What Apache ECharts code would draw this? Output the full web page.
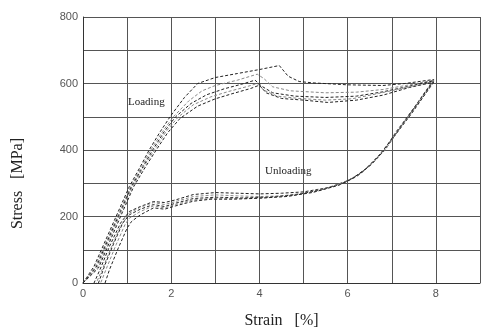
<!DOCTYPE html>
<html>
<head>
<meta charset="utf-8">
<script src="https://cdn.jsdelivr.net/npm/echarts@6/dist/echarts.min.js"></script>
<style>
  html, body { margin: 0; padding: 0; background: #fff; }
  #chart { width: 483px; height: 334px; }
</style>
</head>
<body>
<div id="chart"></div>
<script>
// strain [%], stress [MPa], one loop per specimen
const loadA = [[0,0],[0.25,50],[0.55,140],[0.8,215],[1.05,290],[1.3,350],[1.5,400],[1.75,455],[2.0,505],[2.3,558],[2.6,600],[3.0,618],[3.5,630],[4.0,642],[4.45,654],[4.65,622],[4.9,606],[5.2,602],[6.0,596],[6.8,594],[7.3,600],[7.95,612]];
const unloadA = [[7.95,612],[7.6,545],[7.2,470],[6.9,410],[6.6,365],[6.3,330],[6.0,308],[5.6,288],[5.0,274],[4.5,270],[4.0,268],[3.5,270],[3.0,272],[2.5,266],[2.1,250],[1.85,242],[1.6,245],[1.3,230],[1.05,215],[0.85,180],[0.6,110],[0.4,45],[0.25,0]];

const loadB = [[0,0],[0.28,50],[0.58,140],[0.83,215],[1.08,290],[1.33,350],[1.54,400],[1.8,455],[2.05,500],[2.4,548],[2.7,578],[3.0,594],[3.5,610],[3.95,628],[4.1,615],[4.3,590],[4.7,578],[5.5,572],[6.2,574],[6.8,582],[7.4,596],[7.95,610]];
const unloadB = [[7.95,610],[7.55,535],[7.15,460],[6.85,400],[6.55,360],[6.25,326],[5.95,304],[5.5,285],[5.0,270],[4.5,262],[4.0,260],[3.5,262],[3.0,265],[2.5,260],[2.1,245],[1.85,236],[1.6,242],[1.3,228],[1.05,210],[0.85,170],[0.65,110],[0.45,45],[0.3,0]];

const loadC = [[0,0],[0.3,48],[0.6,140],[0.85,215],[1.1,290],[1.36,350],[1.58,400],[1.84,455],[2.1,500],[2.45,540],[2.8,566],[3.2,584],[3.6,598],[3.9,610],[4.05,592],[4.3,572],[4.8,562],[5.5,558],[6.2,562],[6.8,575],[7.4,592],[7.95,608]];
const unloadC = [[7.95,608],[7.5,525],[7.1,455],[6.8,395],[6.5,352],[6.2,320],[5.9,300],[5.4,280],[4.8,265],[4.2,258],[3.6,256],[3.0,258],[2.5,254],[2.1,240],[1.85,230],[1.6,236],[1.3,222],[1.05,205],[0.9,180],[0.7,120],[0.5,55],[0.35,0]];

const loadD = [[0,0],[0.32,45],[0.62,138],[0.87,215],[1.12,290],[1.38,350],[1.62,400],[1.88,455],[2.15,498],[2.5,536],[2.9,560],[3.3,576],[3.7,590],[3.95,600],[4.1,580],[4.4,562],[4.9,555],[5.5,550],[6.1,554],[6.7,570],[7.4,590],[7.95,606]];
const unloadD = [[7.95,606],[7.5,520],[7.1,450],[6.75,390],[6.45,348],[6.15,318],[5.85,298],[5.3,276],[4.7,262],[4.1,256],[3.5,254],[3.0,255],[2.5,250],[2.1,236],[1.85,226],[1.6,232],[1.3,215],[1.05,195],[0.95,175],[0.75,115],[0.55,50],[0.4,0]];

const loadE = [[0,0],[0.35,45],[0.65,138],[0.9,215],[1.15,290],[1.42,350],[1.66,400],[1.92,452],[2.2,495],[2.6,532],[3.0,554],[3.4,570],[3.8,585],[4.0,595],[4.15,572],[4.5,555],[5.0,550],[5.55,543],[6.2,550],[6.8,565],[7.4,588],[7.95,604]];
const unloadE = [[7.95,604],[7.45,510],[7.05,440],[6.7,382],[6.4,342],[6.1,314],[5.8,294],[5.2,272],[4.6,260],[4.0,255],[3.4,252],[2.9,252],[2.5,246],[2.1,232],[1.85,222],[1.6,226],[1.3,205],[1.1,185],[1.0,165],[0.8,105],[0.6,40],[0.5,0]];

const curves = [loadA, unloadA, loadB, unloadB, loadC, unloadC, loadD, unloadD, loadE, unloadE];
const lineColors = ['#222', '#888'];

const chart = echarts.init(document.getElementById('chart'));

const AX_T = { fontFamily: 'Liberation Sans', fontSize: 11, color: '#555' };
const GRID_L = { show: true, lineStyle: { color: '#555', width: 1 } };

chart.setOption({
  animation: false,
  grid: { left: 83, right: 0, top: 17, bottom: 49 },
  xAxis: {
    type: 'value', min: 0, max: 9, interval: 1,
    axisLine: { show: true, lineStyle: { color: '#333' } },
    axisTick: { show: false },
    axisLabel: { ...AX_T, margin: 5, formatter: v => (v % 2 === 0 && v < 9 ? String(v) : '') },
    splitLine: GRID_L,
    name: 'Strain   [%]', nameLocation: 'middle', nameGap: 30,
    nameTextStyle: { fontFamily: 'Liberation Serif', fontSize: 16, color: '#222' }
  },
  yAxis: {
    type: 'value', min: 0, max: 800, interval: 100,
    axisLine: { show: true, lineStyle: { color: '#333' } },
    axisTick: { show: false },
    axisLabel: { ...AX_T, margin: 5, formatter: v => (v % 200 === 0 ? String(v) : '') },
    splitLine: GRID_L
  },
  graphic: [
    { type: 'text', left: 10, top: 138, rotation: Math.PI / 2,
      style: { text: 'Stress   [MPa]', font: '16px "Liberation Serif"', fill: '#222' } },
    { type: 'text', x: 128, y: 97,
      style: { text: 'Loading', font: '11px "Liberation Serif"', fill: '#222' } },
    { type: 'text', x: 265, y: 166,
      style: { text: 'Unloading', font: '11px "Liberation Serif"', fill: '#222' } }
  ],
  series: curves.map((d, i) => ({
    type: 'line',
    data: d,
    showSymbol: false,
    lineStyle: { color: lineColors[Math.floor(i / 2) % 2], width: 1, type: [3, 2] }
  }))
});
</script>
</body>
</html>
